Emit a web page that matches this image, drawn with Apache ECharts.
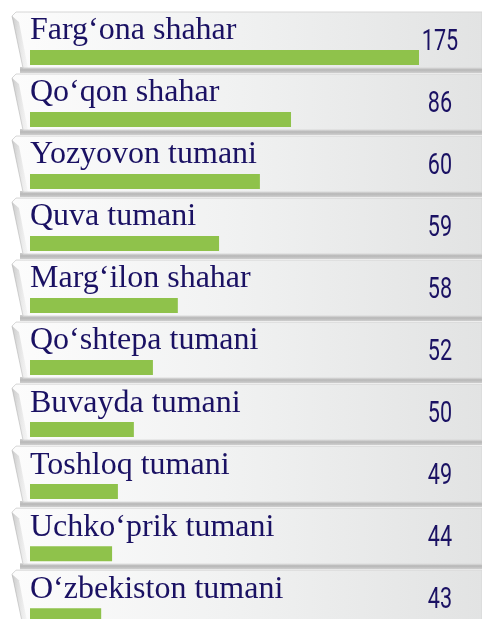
<!DOCTYPE html>
<html>
<head>
<meta charset="utf-8">
<script src="https://cdn.jsdelivr.net/npm/echarts@6/dist/echarts.min.js"></script>
<style>
  html, body { margin: 0; padding: 0; background: #fff; }
  #main { width: 482px; height: 619px; }
</style>
</head>
<body>
<div id="main"></div>
<script>
const names = [
  "Farg\u2018ona shahar",
  "Qo\u2018qon shahar",
  "Yozyovon tumani",
  "Quva tumani",
  "Marg\u2018ilon shahar",
  "Qo\u2018shtepa tumani",
  "Buvayda tumani",
  "Toshloq tumani",
  "Uchko\u2018prik tumani",
  "O\u2018zbekiston tumani"
];
const values = [175, 86, 60, 59, 58, 52, 50, 49, 44, 43];
// bar lengths as drawn in the picture (share of the longest bar, %)
const barLengths = [100, 67.1, 59.1, 48.6, 38.0, 31.6, 26.7, 22.6, 21.1, 18.3];
const rowIndex = names.map((n, i) => i);

const chart = echarts.init(document.getElementById("main"));
const navy = "#1a1163";

function renderRow(params, api) {
  const idx = api.value(1);
  const start = api.coord([0, idx]);
  const end = api.coord([api.value(0), idx]);
  const band = api.size([0, 1])[1];
  const cy = start[1];
  const top = cy - band / 2 + 2;
  const W = api.getWidth();
  const x0 = start[0];

  return {
    type: "group",
    children: [
      // separator strip under the ribbon
      {
        type: "rect",
        shape: { x: x0 - 10, y: top + 55, width: W, height: 6 },
        style: {
          fill: new echarts.graphic.LinearGradient(0, 0, 0, 1, [
            { offset: 0, color: "#d0d0d0" },
            { offset: 0.5, color: "#b8b8b8" },
            { offset: 1, color: "#cfcfcf" }
          ])
        }
      },
      // ribbon body
      {
        type: "polygon",
        shape: {
          points: [
            [x0 - 18, top + 4],
            [x0 - 14, top],
            [W, top],
            [W, top + 56],
            [x0 - 7, top + 56]
          ]
        },
        style: {
          fill: new echarts.graphic.LinearGradient(0, 0, 1, 0, [
            { offset: 0, color: "#fcfcfc" },
            { offset: 0.45, color: "#f1f2f2" },
            { offset: 1, color: "#e2e3e3" }
          ]),
          stroke: "#d6d6d6",
          lineWidth: 1
        }
      },
      // folded left corner
      {
        type: "polygon",
        shape: {
          points: [
            [x0 - 18, top + 4],
            [x0 - 7, top + 56],
            [x0 - 2, top + 56],
            [x0 - 11, top + 10]
          ]
        },
        style: {
          fill: new echarts.graphic.LinearGradient(0, 0, 1, 0, [
            { offset: 0, color: "rgba(140,140,140,0.45)" },
            { offset: 1, color: "rgba(200,200,200,0.1)" }
          ])
        }
      },
      // green bar
      {
        type: "rect",
        shape: { x: x0, y: cy + 9, width: end[0] - x0, height: 15 },
        style: { fill: "#8fc24b" }
      },
      // name
      {
        type: "text",
        x: x0,
        y: cy - 10,
        style: {
          text: names[idx],
          fill: navy,
          font: "32px 'Liberation Serif'",
          verticalAlign: "middle",
          align: "left"
        }
      },
      // value (condensed look)
      {
        type: "text",
        x: W - 42,
        y: cy + 1,
        scaleX: 0.72,
        style: {
          text: String(values[idx]),
          fill: navy,
          font: "30px Roboto",
          verticalAlign: "middle",
          align: "center"
        }
      }
    ]
  };
}

const option = {
  animation: false,
  backgroundColor: "#ffffff",
  grid: { left: 30, width: 389, top: 10, bottom: 0 },
  xAxis: { type: "value", min: 0, max: 100, show: false },
  // one unit per row, 62 px each
  yAxis: { type: "value", inverse: true, min: -0.5, max: 9.32, show: false },
  series: [
    {
      type: "custom",
      renderItem: renderRow,
      encode: { x: 0, y: 1 },
      data: barLengths.map((v, i) => [v, rowIndex[i]])
    }
  ]
};

chart.setOption(option);
</script>
</body>
</html>
